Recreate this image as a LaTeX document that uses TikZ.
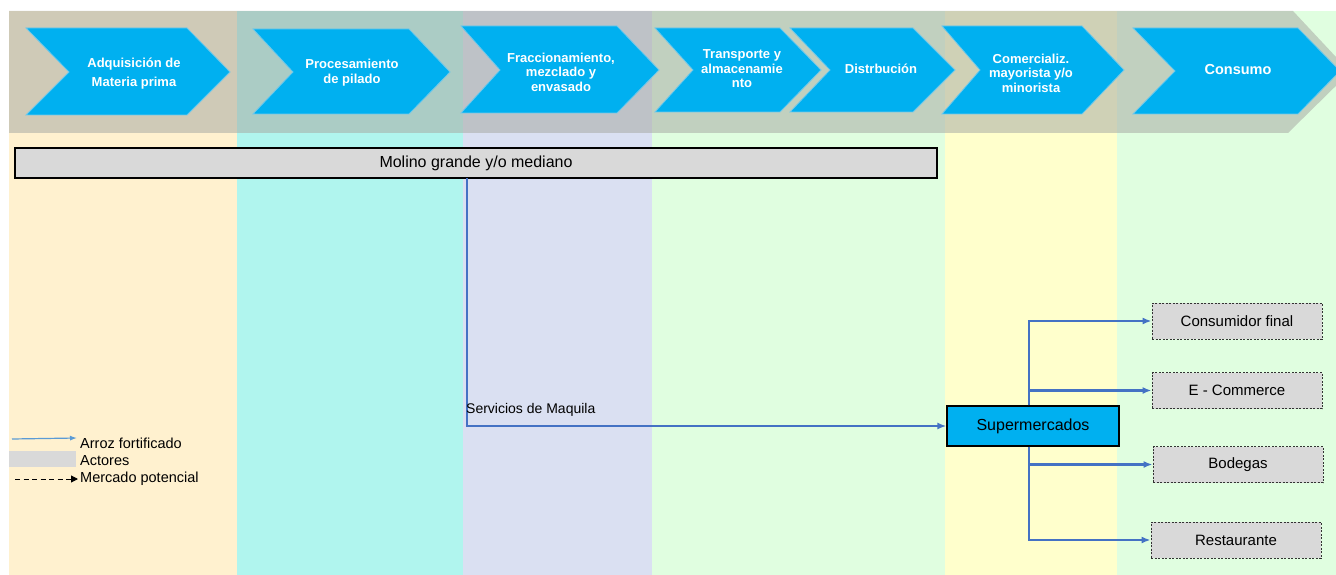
\documentclass[tikz,border=0pt]{standalone}
\usepackage{fontspec}
\setmainfont{Liberation Sans}
\usetikzlibrary{arrows.meta}
\definecolor{colA}{RGB}{255,241,207}
\definecolor{colB}{RGB}{176,245,238}
\definecolor{colC}{RGB}{218,224,242}
\definecolor{colD}{RGB}{224,254,224}
\definecolor{colE}{RGB}{255,255,204}
\definecolor{bandgray}{RGB}{168,170,164}
\definecolor{chevblue}{RGB}{0,176,240}
\definecolor{chevedge}{RGB}{110,200,235}
\definecolor{flowblue}{RGB}{68,114,196}
\definecolor{legblue}{RGB}{91,155,213}
\definecolor{actgray}{RGB}{217,217,217}
\begin{document}
\begin{tikzpicture}[x=1pt,y=-1pt,
  chevfill/.style={fill=chevblue,draw=chevedge,line width=0.8pt},
  chevtext/.style={text=white,align=center,inner sep=0pt,font=\fontsize{13}{14.5}\selectfont\bfseries},
  flow/.style={draw=flowblue,line width=2.4pt,-{Latex[length=9pt,width=7pt]}},
  actor/.style={draw=black,fill=actgray,line width=1.2pt,inner sep=0pt},
  potential/.style={draw=black!80,fill=actgray,dash pattern=on 2pt off 1.5pt,line width=0.9pt,inner sep=0pt,minimum width=170,minimum height=36,font=\fontsize{15}{17}\selectfont},
  legtext/.style={anchor=base west,inner sep=0pt,font=\fontsize{14.5}{16}\selectfont}]
\useasboundingbox (0,0) rectangle (1336,575);
\clip (0,0) rectangle (1336,575);
% columns
\fill[colA] (9,11) rectangle (237,575);
\fill[colB] (237,11) rectangle (463,575);
\fill[colC] (463,11) rectangle (652,575);
\fill[colD] (652,11) rectangle (945,575);
\fill[colE] (945,11) rectangle (1117,575);
\fill[colD] (1117,11) rectangle (1336,575);
% top band
\fill[bandgray,fill opacity=0.54] (9,11) -- (1293,11) -- (1350,72) -- (1288,133) -- (9,133) -- cycle;
% chevrons
\filldraw[chevfill] (26,28) -- (187,28) -- (230,72) -- (187,115) -- (26,115) -- (69,72) -- cycle;
\node[chevtext,font=\fontsize{13}{19}\selectfont\bfseries] (ch1) at (134,74) {Adquisición de\\Materia prima};
\filldraw[chevfill] (253,29) -- (409,29) -- (450,72) -- (409,114) -- (253,114) -- (293,72) -- cycle;
\node[chevtext,font=\fontsize{13}{15}\selectfont\bfseries] (ch2) at (352,73) {Procesamiento\\de pilado};
\filldraw[chevfill] (461,26) -- (617,26) -- (659,70) -- (617,113) -- (461,113) -- (500,70) -- cycle;
\node[chevtext] (ch3) at (561,72) {Fraccionamiento,\\mezclado y\\envasado};
\filldraw[chevfill] (655,28) -- (780,28) -- (821,70) -- (780,112) -- (655,112) -- (693,70) -- cycle;
\node[chevtext] (ch4) at (742,69) {Transporte y\\almacenamie\\nto};
\filldraw[chevfill] (790,28) -- (913,28) -- (955,70) -- (913,112) -- (790,112) -- (830,70) -- cycle;
\node[chevtext] (ch5) at (881,69) {Distrbución};
\filldraw[chevfill] (942,26) -- (1082,26) -- (1124,70) -- (1082,114) -- (942,114) -- (980,70) -- cycle;
\node[chevtext] (ch6) at (1031,73) {Comercializ.\\mayorista y/o\\minorista};
\filldraw[chevfill] (1133,28) -- (1298,28) -- (1340,71) -- (1298,114) -- (1133,114) -- (1175,71) -- cycle;
\node[chevtext,font=\fontsize{14.5}{16}\selectfont\bfseries] (ch7) at (1238,70) {Consumo};
% actors
\node[actor,minimum width=922,minimum height=30,font=\fontsize{16}{18}\selectfont] (molino) at (476,163) {Molino grande y/o mediano};
\node[actor,fill=chevblue,minimum width=172,minimum height=40,font=\fontsize{16}{18}\selectfont] (super) at (1033,426) {Supermercados};
% potential markets
\node[potential] (cf) at (1237,321) {Consumidor final};
\node[potential] (ec) at (1237,390.5) {E - Commerce};
\node[potential] (bo) at (1238,464.5) {Bodegas};
\node[potential] (re) at (1236,540) {Restaurante};
% flows
\coordinate (mq) at (467,178);
\draw[flow] (mq) |- (super.west);
\node[legtext,font=\fontsize{14}{16}\selectfont] (maq) at (466,413) {Servicios de Maquila};
\draw[flow] ([xshift=-4pt]super.north) |- (cf.west);
\draw[flow] ([xshift=-4pt]super.north) |- (ec.west);
\draw[flow] ([xshift=-4pt]super.south) |- (bo.west);
\draw[flow] ([xshift=-4pt]super.south) |- (re.west);
% legend
\coordinate (la1) at (12,439);
\coordinate (la2) at (77,438);
\draw[legblue,line width=1.2pt,-{Latex[length=7pt,width=5pt]}] (la1) -- (la2);
\node[legtext] (lt1) at (80,448) {Arroz fortificado};
\node[fill=actgray,inner sep=0pt,minimum width=67,minimum height=16] (lg) at (42.5,459) {};
\node[legtext] (lt2) at (80,465) {Actores};
\coordinate (ld1) at (15,479);
\coordinate (ld2) at (78,479);
\draw[black,line width=1pt,dash pattern=on 5pt off 3.5pt,-{Triangle[length=7pt,width=7pt]}] (ld1) -- (ld2);
\node[legtext] (lt3) at (80,482) {Mercado potencial};
\end{tikzpicture}
\end{document}
